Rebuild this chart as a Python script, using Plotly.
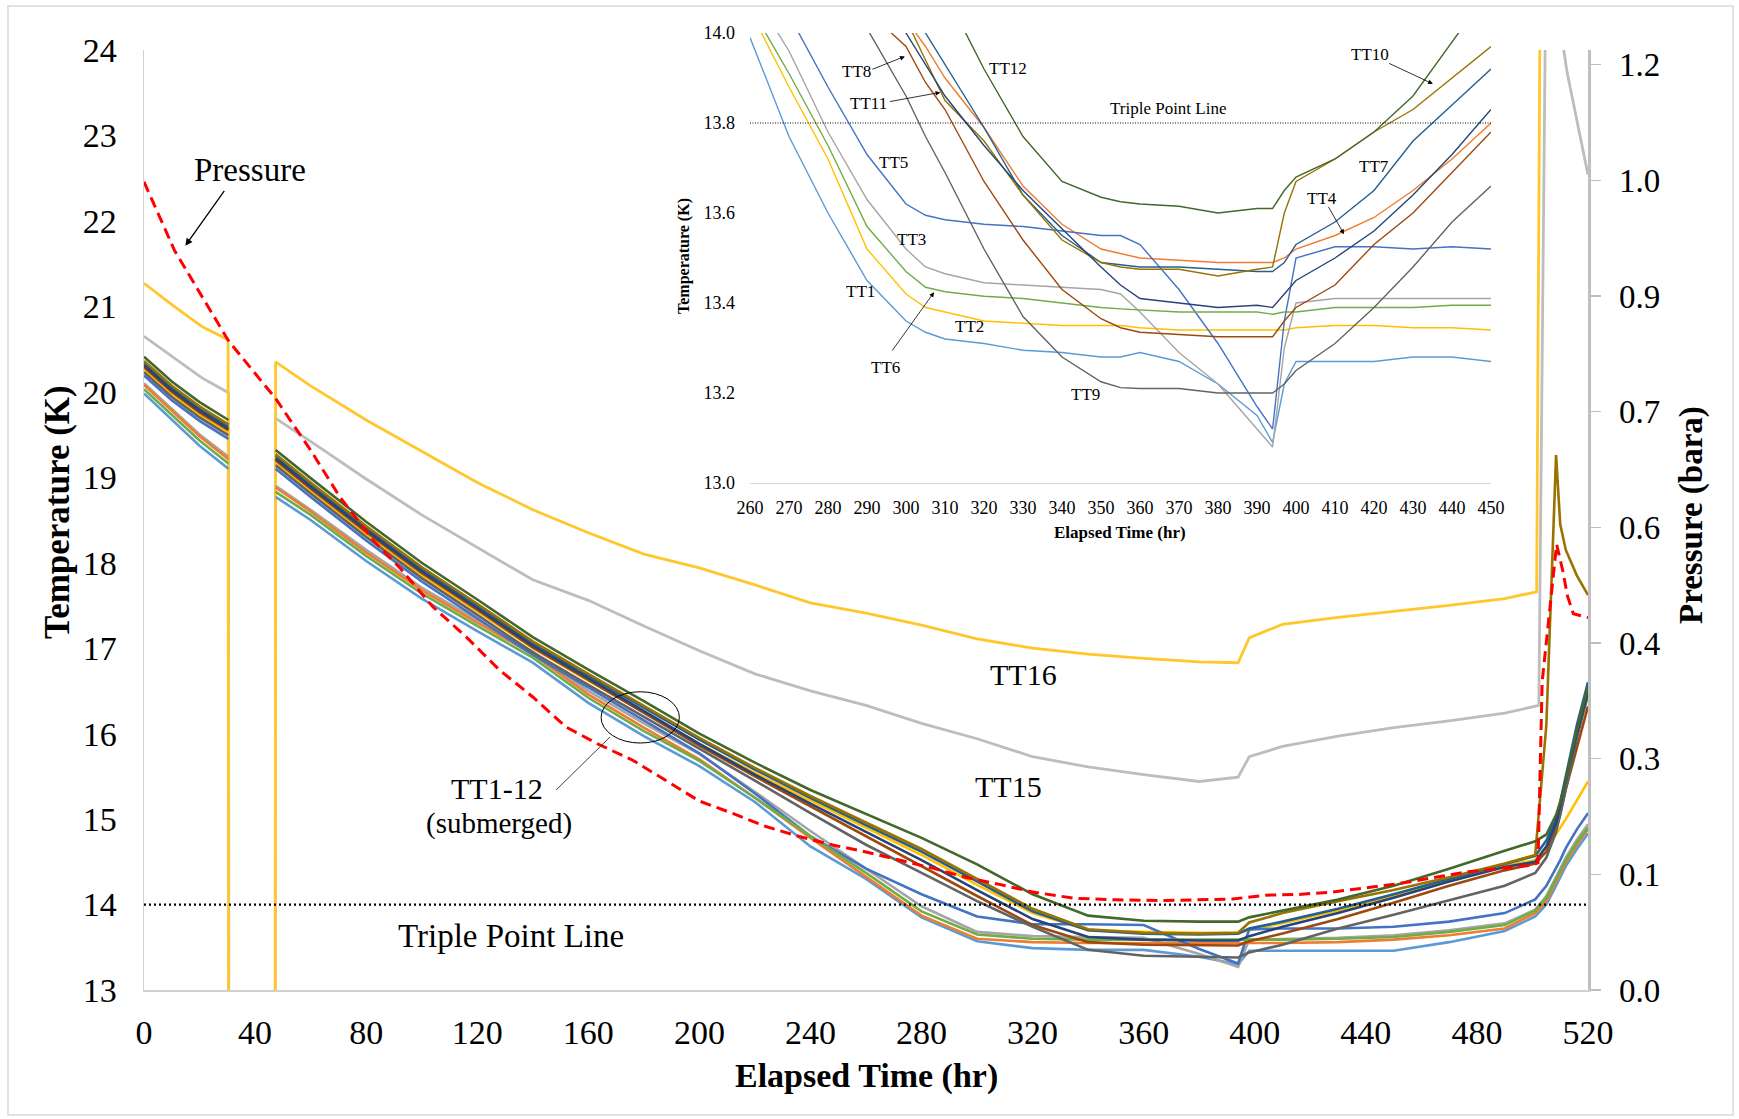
import plotly.graph_objects as go

SERIF = "Liberation Serif, Times New Roman, serif"

# ---------------- main chart data (Elapsed time, hr) ----------------
t_main = [0, 10, 20, 30.4, 39, 47.4, 60, 80, 100, 120, 140, 160, 180, 200, 220, 240, 260, 280,
          300, 320, 340, 360, 380, 394, 398, 410, 430, 450, 470, 490, 501, 505, 508.5, 510, 512, 516, 520]

TT1 = [19.98, 19.68, 19.37, 19.10, None, 18.77, 18.50, 18.02, 17.58, 17.20, 16.83, 16.36, 15.97, 15.62, 15.20, 14.68, 14.30, 13.85,
       13.57, 13.49, 13.47, 13.47, 13.39, 13.30, 13.46, 13.46, 13.46, 13.46, 13.56, 13.69, 13.86, 14.00, 14.22, 14.32, 14.45, 14.65, 14.83]
TT2 = [20.26, 19.97, 19.73, 19.52, None, 19.17, 18.84, 18.33, 17.85, 17.43, 17.00, 16.62, 16.25, 15.88, 15.54, 15.22, 14.90, 14.58,
       14.23, 13.90, 13.70, 13.68, 13.67, 13.67, 13.70, 13.78, 13.93, 14.10, 14.28, 14.45, 14.52, 14.68, 14.82, 14.90, 15.00, 15.22, 15.44]
TT3 = [20.10, 19.80, 19.50, 19.24, None, 18.90, 18.62, 18.15, 17.71, 17.33, 16.96, 16.50, 16.12, 15.76, 15.32, 14.86, 14.42, 13.98,
       13.68, 13.63, 13.62, 13.61, 13.42, 13.27, 13.59, 13.60, 13.61, 13.64, 13.70, 13.78, 13.94, 14.10, 14.33, 14.43, 14.55, 14.76, 14.94]
TT4 = [20.08, 19.78, 19.48, 19.21, None, 18.88, 18.60, 18.12, 17.68, 17.30, 16.93, 16.46, 16.07, 15.70, 15.25, 14.78, 14.33, 13.87,
       13.60, 13.56, 13.55, 13.55, 13.55, 13.55, 13.55, 13.55, 13.56, 13.59, 13.64, 13.72, 13.90, 14.04, 14.27, 14.37, 14.49, 14.70, 14.88]
TT5 = [20.19, 19.90, 19.66, 19.45, None, 19.10, 18.77, 18.26, 17.78, 17.35, 16.92, 16.54, 16.16, 15.77, 15.30, 14.80, 14.42, 14.12,
       13.86, 13.77, 13.77, 13.76, 13.48, 13.31, 13.71, 13.72, 13.72, 13.74, 13.80, 13.90, 14.06, 14.22, 14.43, 14.52, 14.66, 14.88, 15.07]
TT6 = [20.03, 19.73, 19.43, 19.16, None, 18.83, 18.56, 18.08, 17.64, 17.26, 16.89, 16.42, 16.03, 15.68, 15.25, 14.80, 14.37, 13.92,
       13.65, 13.60, 13.59, 13.59, 13.59, 13.59, 13.59, 13.59, 13.60, 13.62, 13.68, 13.76, 13.93, 14.08, 14.30, 14.40, 14.52, 14.73, 14.90]
TT7 = [20.34, 20.05, 19.81, 19.60, None, 19.25, 18.92, 18.41, 17.93, 17.50, 17.06, 16.68, 16.31, 15.93, 15.58, 15.25, 14.93, 14.62,
       14.27, 13.92, 13.70, 13.66, 13.65, 13.66, 13.72, 13.80, 13.95, 14.12, 14.30, 14.47, 14.57, 14.75, 15.00, 15.20, 15.50, 16.10, 16.60]
TT8 = [20.29, 20.00, 19.76, 19.55, None, 19.20, 18.87, 18.36, 17.88, 17.45, 17.01, 16.63, 16.25, 15.86, 15.50, 15.15, 14.80, 14.46,
       14.10, 13.76, 13.56, 13.53, 13.52, 13.52, 13.57, 13.66, 13.83, 14.02, 14.22, 14.40, 14.48, 14.62, 14.88, 15.05, 15.35, 15.85, 16.32]
TT9 = [20.23, 19.94, 19.70, 19.49, None, 19.14, 18.81, 18.30, 17.82, 17.39, 16.95, 16.57, 16.20, 15.82, 15.45, 15.07, 14.70, 14.37,
       14.04, 13.74, 13.47, 13.40, 13.39, 13.38, 13.44, 13.53, 13.72, 13.88, 14.05, 14.22, 14.37, 14.55, 14.85, 15.05, 15.35, 15.95, 16.45]
TT10 = [20.36, 20.07, 19.83, 19.62, None, 19.27, 18.94, 18.43, 17.95, 17.52, 17.08, 16.70, 16.33, 15.95, 15.60, 15.27, 14.96, 14.65,
        14.30, 13.95, 13.71, 13.67, 13.66, 13.67, 13.79, 13.90, 14.04, 14.17, 14.32, 14.48, 14.58, 16.10, 19.26, 18.45, 18.15, 17.85, 17.62]
TT11 = [20.31, 20.02, 19.78, 19.57, None, 19.22, 18.89, 18.38, 17.90, 17.47, 17.03, 16.65, 16.27, 15.88, 15.52, 15.18, 14.85, 14.52,
        14.17, 13.83, 13.62, 13.59, 13.58, 13.58, 13.63, 13.74, 13.90, 14.08, 14.27, 14.44, 14.50, 14.68, 14.95, 15.15, 15.45, 16.00, 16.50]
TT12 = [20.41, 20.12, 19.88, 19.67, None, 19.32, 18.99, 18.48, 18.00, 17.57, 17.13, 16.75, 16.38, 16.00, 15.66, 15.34, 15.06, 14.78,
        14.47, 14.12, 13.87, 13.81, 13.80, 13.80, 13.85, 13.93, 14.06, 14.22, 14.42, 14.63, 14.74, 14.82, 15.05, 15.20, 15.45, 16.05, 16.55]

t_TT15 = [0, 10, 21, 30.4, 30.6, 47.2, 47.4, 60, 80, 100, 120, 140, 160, 180, 200, 220, 240, 260, 280, 300, 320, 340, 360, 380,
          394, 398, 410, 430, 450, 470, 490, 502.3, 505, 508, 510.4, 512.4, 516.6, 520]
TT15 = [20.65, 20.42, 20.16, 19.99, 10.0, 10.0, 19.69, 19.42, 18.98, 18.56, 18.18, 17.80, 17.56, 17.26, 16.97, 16.70, 16.50, 16.33,
        16.12, 15.94, 15.73, 15.61, 15.52, 15.44, 15.49, 15.73, 15.85, 15.97, 16.07, 16.15, 16.24, 16.33, 25.5, 26.0, 24.2, 23.75, 23.08, 22.54]

t_TT16 = [0, 10, 21, 30.3, 30.5, 47.2, 47.4, 60, 80, 100, 120, 140, 160, 180, 200, 220, 240, 260, 280, 300, 320, 340, 360, 380,
          394, 398, 410, 430, 450, 470, 490, 501.5, 503, 520]
TT16 = [21.27, 21.02, 20.76, 20.61, 10.0, 10.0, 20.35, 20.07, 19.67, 19.30, 18.94, 18.62, 18.35, 18.10, 17.94, 17.74, 17.53, 17.41,
        17.27, 17.11, 17.00, 16.93, 16.88, 16.84, 16.83, 17.12, 17.28, 17.36, 17.43, 17.50, 17.58, 17.66, 26.0, 26.0]

t_pres = [0, 11, 30.4, 47.4, 60, 70.6, 82.6, 92, 104, 116, 128, 140, 152, 164, 176, 188, 200, 212, 224, 236, 248, 260, 272, 284,
          296, 308, 320, 335, 350, 368, 392, 404, 416, 428, 452, 476, 500, 502, 503.5, 508.7, 510.9, 512.6, 514.7, 520]
pressure = [1.048, 0.959, 0.842, 0.767, 0.700, 0.639, 0.583, 0.548, 0.497, 0.458, 0.415, 0.380, 0.341, 0.318, 0.298, 0.272, 0.245,
            0.229, 0.212, 0.199, 0.188, 0.179, 0.168, 0.158, 0.146, 0.137, 0.127, 0.119, 0.117, 0.116, 0.118, 0.123, 0.124, 0.127,
            0.138, 0.153, 0.162, 0.165, 0.400, 0.578, 0.544, 0.511, 0.488, 0.483]

# ---------------- inset data ----------------
t_inset = [260, 270, 280, 290, 300, 305, 310, 320, 330, 340, 350, 355, 360, 370, 380, 390, 394, 397, 400, 410, 420, 430, 440, 450]
in_TT1 = [13.99, 13.77, 13.60, 13.45, 13.36, 13.335, 13.32, 13.31, 13.295, 13.29, 13.28, 13.28, 13.29, 13.27, 13.22, 13.15, 13.09, 13.22, 13.27, 13.27, 13.27, 13.28, 13.28, 13.27]
in_TT2 = [14.05, 13.88, 13.72, 13.52, 13.42, 13.39, 13.38, 13.36, 13.355, 13.35, 13.35, 13.35, 13.345, 13.34, 13.34, 13.34, 13.34, 13.34, 13.345, 13.35, 13.35, 13.345, 13.345, 13.34]
in_TT3 = [14.10, 13.96, 13.78, 13.63, 13.52, 13.48, 13.465, 13.445, 13.44, 13.435, 13.43, 13.42, 13.38, 13.29, 13.22, 13.12, 13.08, 13.30, 13.40, 13.41, 13.41, 13.41, 13.41, 13.41]
in_TT4 = [14.55, 14.42, 14.30, 14.17, 14.03, 13.97, 13.90, 13.79, 13.66, 13.575, 13.52, 13.51, 13.50, 13.495, 13.49, 13.49, 13.49, 13.50, 13.52, 13.55, 13.59, 13.65, 13.72, 13.80]
in_TT5 = [14.20, 14.04, 13.88, 13.73, 13.62, 13.595, 13.585, 13.575, 13.57, 13.56, 13.55, 13.55, 13.53, 13.43, 13.31, 13.17, 13.12, 13.36, 13.50, 13.525, 13.525, 13.52, 13.525, 13.52]
in_TT6 = [14.06, 13.91, 13.75, 13.57, 13.47, 13.435, 13.425, 13.415, 13.41, 13.40, 13.39, 13.387, 13.385, 13.38, 13.38, 13.38, 13.375, 13.38, 13.38, 13.39, 13.39, 13.39, 13.395, 13.395]
in_TT7 = [14.60, 14.47, 14.35, 14.22, 14.08, 14.00, 13.93, 13.79, 13.64, 13.55, 13.49, 13.485, 13.48, 13.48, 13.475, 13.47, 13.47, 13.49, 13.53, 13.58, 13.65, 13.76, 13.84, 13.92]
in_TT8 = [14.30, 14.20, 14.12, 14.05, 13.97, 13.89, 13.83, 13.67, 13.54, 13.43, 13.365, 13.345, 13.335, 13.33, 13.325, 13.325, 13.325, 13.36, 13.39, 13.44, 13.53, 13.60, 13.69, 13.78]
in_TT9 = [14.35, 14.25, 14.14, 14.01, 13.86, 13.77, 13.69, 13.52, 13.37, 13.28, 13.225, 13.212, 13.21, 13.21, 13.20, 13.20, 13.20, 13.22, 13.25, 13.31, 13.39, 13.48, 13.58, 13.66]
in_TT10 = [14.55, 14.42, 14.30, 14.17, 14.03, 13.94, 13.85, 13.76, 13.64, 13.54, 13.49, 13.48, 13.475, 13.475, 13.46, 13.475, 13.48, 13.60, 13.67, 13.72, 13.78, 13.83, 13.90, 13.97]
in_TT11 = [14.45, 14.35, 14.22, 14.12, 14.00, 13.93, 13.86, 13.75, 13.65, 13.565, 13.48, 13.44, 13.41, 13.40, 13.39, 13.395, 13.39, 13.42, 13.45, 13.50, 13.56, 13.64, 13.73, 13.83]
in_TT12 = [14.94, 14.77, 14.60, 14.43, 14.26, 14.18, 14.09, 13.92, 13.77, 13.67, 13.635, 13.625, 13.62, 13.615, 13.60, 13.61, 13.61, 13.65, 13.68, 13.72, 13.78, 13.86, 13.98, 14.10]

# ---------------- labels / ticks ----------------
x_ticks_main = [0, 40, 80, 120, 160, 200, 240, 280, 320, 360, 400, 440, 480, 520]
p_tickvals = [0, 0.15, 0.30, 0.45, 0.60, 0.75, 0.90, 1.05, 1.20]
p_ticktext = ["0.0", "0.1", "0.3", "0.4", "0.6", "0.7", "0.9", "1.0", "1.2"]

series_names = ["TT1", "TT2", "TT3", "TT4", "TT5", "TT6", "TT7", "TT8", "TT9", "TT10", "TT11", "TT12"]
main_series = [TT1, TT2, TT3, TT4, TT5, TT6, TT7, TT8, TT9, TT10, TT11, TT12]
inset_series = [in_TT1, in_TT2, in_TT3, in_TT4, in_TT5, in_TT6, in_TT7, in_TT8, in_TT9, in_TT10, in_TT11, in_TT12]
colors = ["#5B9BD5", "#FFC000", "#A5A5A5", "#ED7D31", "#4472C4", "#70AD47",
          "#255E91", "#9E480E", "#636363", "#997300", "#264478", "#43682B"]

fig = go.Figure()

fig.add_trace(go.Scatter(x=t_TT15, y=TT15, mode="lines", name="TT15",
                         line=dict(color="#BDBDBD", width=2.8), xaxis="x", yaxis="y"))
fig.add_trace(go.Scatter(x=t_TT16, y=TT16, mode="lines", name="TT16",
                         line=dict(color="#FFC72C", width=2.8), xaxis="x", yaxis="y"))
for nm, ys, c in zip(series_names, main_series, colors):
    fig.add_trace(go.Scatter(x=t_main, y=ys, mode="lines", name=nm,
                             line=dict(color=c, width=2.6), xaxis="x", yaxis="y"))
fig.add_trace(go.Scatter(x=t_pres, y=pressure, mode="lines", name="Pressure",
                         line=dict(color="#FF0000", width=3, dash="11px,6px"), xaxis="x", yaxis="y3"))

for nm, ys, c in zip(series_names, inset_series, colors):
    fig.add_trace(go.Scatter(x=t_inset, y=ys, mode="lines", name=nm + " (inset)",
                             line=dict(color=c, width=1.4), xaxis="x2", yaxis="y2"))

W, H = 1739, 1119
ML, MR, MT, MB = 144, 151, 33, 129
PW, PH = W - ML - MR, H - MT - MB


def px(xpix):
    return (xpix - ML) / PW


def py(ypix):
    return (H - MB - ypix) / PH


main_top = py(50)

fig.update_layout(
    width=W, height=H, autosize=False,
    margin=dict(l=ML, r=MR, t=MT, b=MB, pad=0),
    paper_bgcolor="white", plot_bgcolor="rgba(0,0,0,0)",
    showlegend=False, hovermode=False,
    font=dict(family=SERIF, color="black", size=30),
    xaxis=dict(domain=[0, 1], range=[0, 520], tickmode="array", tickvals=x_ticks_main,
               showgrid=False, zeroline=False, showline=True, linecolor="#D0D0D0", linewidth=1.5,
               ticks="", tickfont=dict(size=34, family=SERIF), ticklabelstandoff=12, anchor="y"),
    yaxis=dict(domain=[0, main_top], range=[13, 24], dtick=1, tick0=13,
               showgrid=False, zeroline=False, showline=True, linecolor="#D0D0D0", linewidth=1.5,
               ticks="", tickfont=dict(size=34, family=SERIF), ticklabelstandoff=19, anchor="x"),
    yaxis3=dict(overlaying="y", side="right", anchor="x", range=[0, 1.219],
                tickmode="array", tickvals=p_tickvals, ticktext=p_ticktext,
                showgrid=False, zeroline=False, showline=True, linecolor="#BFBFBF", linewidth=2.5,
                ticks="outside", ticklen=10, tickcolor="#BFBFBF", tickwidth=1.5,
                tickfont=dict(size=33, family=SERIF), ticklabelstandoff=12),
    xaxis2=dict(domain=[px(750), px(1491)], range=[260, 450], dtick=10, tick0=260, anchor="y2",
                showgrid=False, zeroline=False, showline=True, linecolor="#D9D9D9", linewidth=1.2,
                ticks="", tickfont=dict(size=18, family=SERIF), ticklabelstandoff=8),
    yaxis2=dict(domain=[py(483), py(33)], range=[13, 14], dtick=0.2, tick0=13, tickformat=".1f",
                anchor="x2", showgrid=False, zeroline=False, showline=False,
                ticks="", tickfont=dict(size=18, family=SERIF), ticklabelstandoff=14),
)

shapes = [
    # outer frame
    dict(type="rect", xref="paper", yref="paper", x0=px(8), x1=px(1733), y0=py(1115), y1=py(6),
         line=dict(color="#D9D9D9", width=1.5), fillcolor="rgba(0,0,0,0)", layer="below"),
    # triple point line main
    dict(type="line", xref="x", yref="y", x0=0, x1=520, y0=14, y1=14,
         line=dict(color="black", width=2.2, dash="2px,3px")),
    # ellipse around submerged group
    dict(type="circle", xref="x", yref="y", x0=164.6, x1=192.8, y0=15.89, y1=16.49,
         line=dict(color="black", width=1)),
    dict(type="line", xref="x", yref="y", x0=148.4, y0=15.34, x1=167.8, y1=15.96,
         line=dict(color="#404040", width=1)),
    # inset triple point line
    dict(type="line", xref="x2", yref="y2", x0=260, x1=450, y0=13.8, y1=13.8,
         line=dict(color="black", width=1.1, dash="1px,1.5px")),
]
fig.update_layout(shapes=shapes)

ann = []


def label(text, x, y, size, xref="x", yref="y", bold=False, angle=0):
    t = "<b>%s</b>" % text if bold else text
    ann.append(dict(text=t, x=x, y=y, xref=xref, yref=yref, showarrow=False,
                    font=dict(family=SERIF, size=size, color="black"),
                    xanchor="center", yanchor="middle", textangle=angle))


def arrow(x_head, y_head, x_tail, y_tail, xref="x", yref="y", width=1.2, size=1.0):
    ann.append(dict(text="", x=x_head, y=y_head, ax=x_tail, ay=y_tail, xref=xref, yref=yref,
                    axref=xref, ayref=yref, showarrow=True, arrowhead=2, arrowsize=size,
                    arrowwidth=width, arrowcolor="black", standoff=0, startstandoff=0))


# axis titles
label("Temperature (K)", px(57), py(512), 35, "paper", "paper", bold=True, angle=-90)
label("Elapsed Time (hr)", px(866), py(1076), 34, "paper", "paper", bold=True)
label("Pressure (bara)", px(1691), py(515), 33, "paper", "paper", bold=True, angle=-90)
# inset axis titles
label("Temperature (K)", px(684), py(256), 16, "paper", "paper", bold=True, angle=-90)
label("Elapsed Time (hr)", px(1120), py(532), 17, "paper", "paper", bold=True)

# main annotations
label("Pressure", 38.2, 22.59, 33)
arrow(14.9, 21.71, 29.3, 22.37, width=1.3, size=1.1)
label("TT16", 316.8, 16.69, 30)
label("TT15", 311.3, 15.38, 30)
label("TT1-12", 127, 15.36, 30)
label("(submerged)", 128, 14.95, 29)
label("Triple Point Line", 132.2, 13.634, 33)

# inset annotations
isz = 17
label("TT8", 287.3, 13.914, isz, "x2", "y2")
arrow(299.7, 13.948, 291.0, 13.918, "x2", "y2", width=0.8, size=1.2)
label("TT11", 290.5, 13.843, isz, "x2", "y2")
arrow(308.8, 13.868, 295.5, 13.847, "x2", "y2", width=0.8, size=1.2)
label("TT12", 326.2, 13.922, isz, "x2", "y2")
label("Triple Point Line", 367.2, 13.833, isz, "x2", "y2")
label("TT10", 419.0, 13.952, isz, "x2", "y2")
arrow(435.1, 13.887, 423.5, 13.934, "x2", "y2", width=0.8, size=1.2)
label("TT7", 420.0, 13.704, isz, "x2", "y2")
label("TT4", 406.7, 13.633, isz, "x2", "y2")
arrow(412.3, 13.553, 408.1, 13.617, "x2", "y2", width=0.8, size=1.2)
label("TT5", 296.9, 13.712, isz, "x2", "y2")
label("TT3", 301.4, 13.541, isz, "x2", "y2")
label("TT1", 288.4, 13.426, isz, "x2", "y2")
label("TT2", 316.2, 13.347, isz, "x2", "y2")
label("TT6", 294.8, 13.256, isz, "x2", "y2")
arrow(307.2, 13.424, 296.2, 13.291, "x2", "y2", width=0.8, size=1.2)
label("TT9", 346.1, 13.196, isz, "x2", "y2")

fig.update_layout(annotations=ann)

fig.write_html("out.html", config={"displayModeBar": False, "staticPlot": True},
               post_script="document.body.style.margin='0';document.body.style.overflow='hidden';")
